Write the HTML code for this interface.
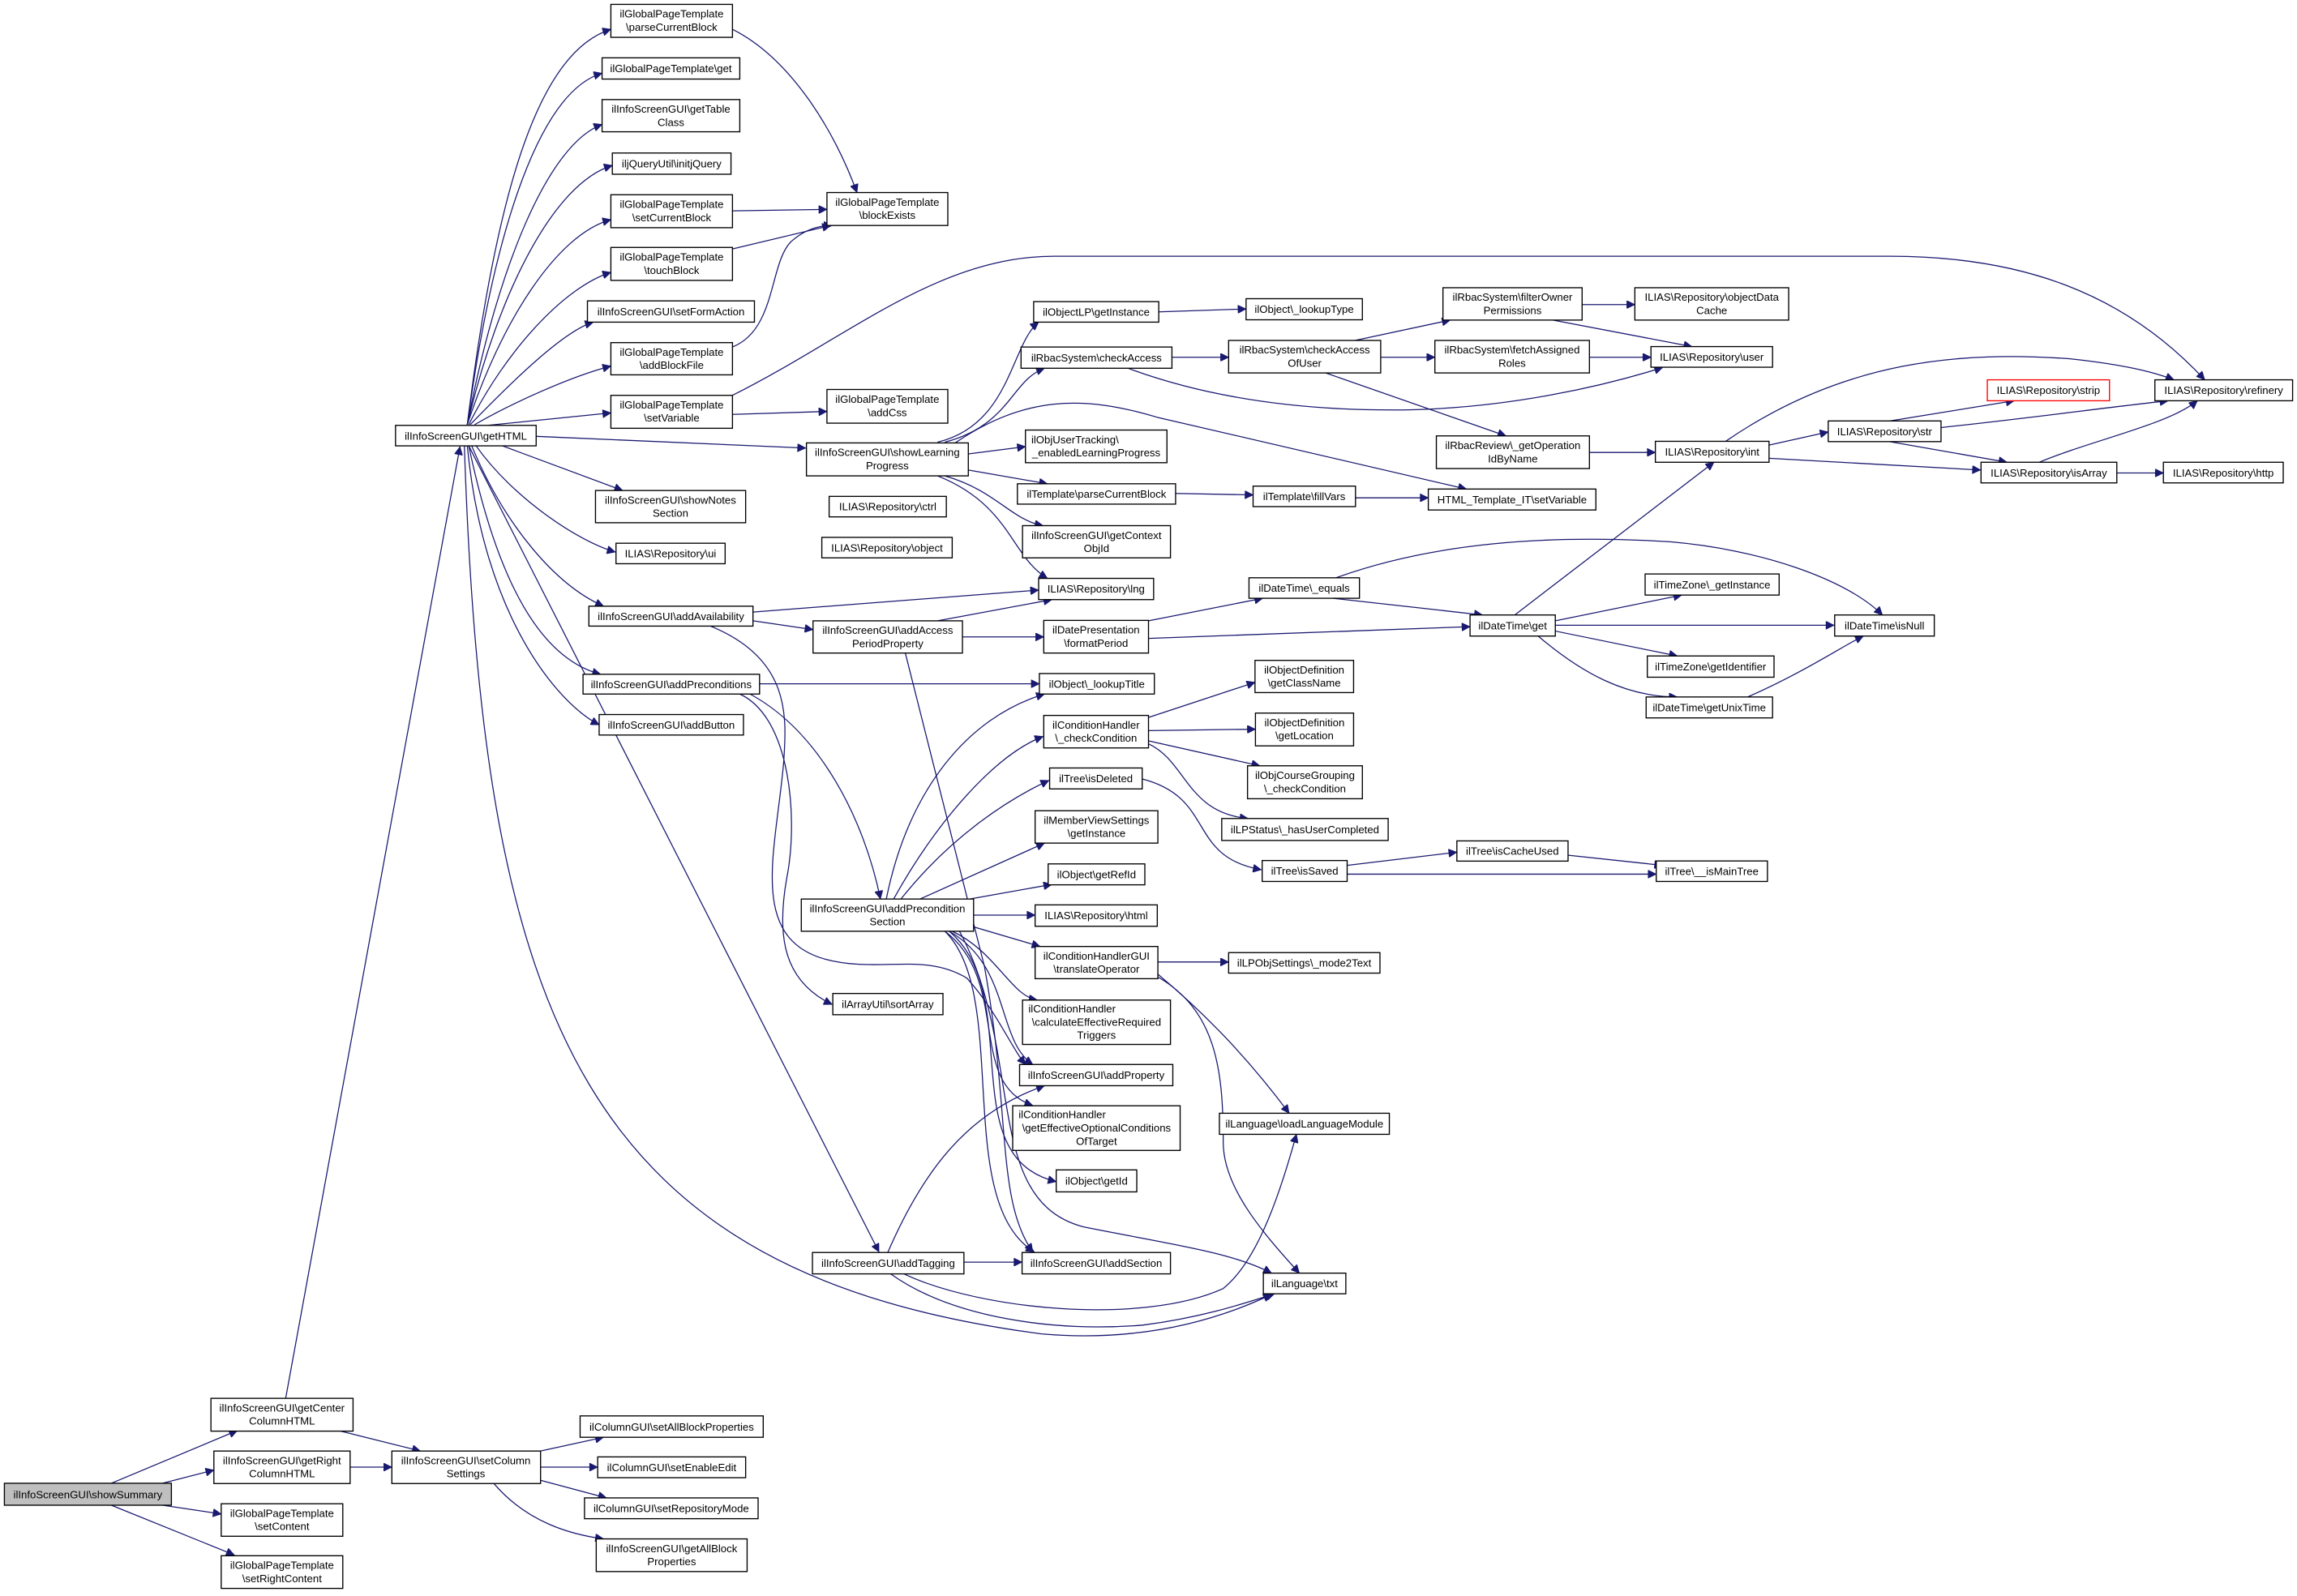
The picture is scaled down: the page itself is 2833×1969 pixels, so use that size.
<!DOCTYPE html>
<html><head><meta charset="utf-8"><style>
html,body{margin:0;padding:0;background:#fff}
svg{display:block}
text{font-family:"Liberation Sans",Arial,sans-serif;font-size:7.3px;fill:#000;text-anchor:middle}
rect{fill:#fff;stroke:#000;stroke-width:0.75}
path{fill:none;stroke:#191970;stroke-width:0.7}
</style></head><body>
<svg width="2833" height="1969" viewBox="0 0 1568 1090" preserveAspectRatio="none" xmlns="http://www.w3.org/2000/svg">
<defs><marker id="a" viewBox="0 0 10 10" refX="10" refY="5" markerWidth="7" markerHeight="5.5" markerUnits="userSpaceOnUse" orient="auto"><path d="M0,0 L10,5 L0,10 z" style="fill:#191970;stroke:#191970"/></marker></defs>
<g marker-end="url(#a)">
<path d="M76,1013 L162,977"/>
<path d="M111,1013 L146,1004"/>
<path d="M111,1028 L151,1034"/>
<path d="M76,1028 L160,1062"/>
<path d="M231,977 L287,991"/>
<path d="M239,1002 L267.5,1002"/>
<path d="M195,955 L314,305"/>
<path d="M369,991 L412,981.6"/>
<path d="M369,1002 L408,1002"/>
<path d="M369,1011 L414,1023"/>
<path d="M337,1013 C360,1040 390,1048 412,1051"/>
<path d="M319,290 C340,120 370,35 417,20"/>
<path d="M319,290 C338,150 370,62 411,50"/>
<path d="M319,290 C340,180 375,98 411,85"/>
<path d="M319,290 C340,200 378,125 418,113"/>
<path d="M319,290 C342,220 380,160 417,150"/>
<path d="M320,290 C345,240 385,196 417,186"/>
<path d="M321,290 C350,260 385,226 405,220"/>
<path d="M324,290 C350,275 390,257 417,250"/>
<path d="M333,290.5 L417,282"/>
<path d="M366,298 L550,306"/>
<path d="M343,304.5 L425,335"/>
<path d="M325,304.5 C350,340 395,370 420,377"/>
<path d="M322,304.5 C345,360 380,400 412,414"/>
<path d="M320,304.5 C340,400 370,450 410,460.5"/>
<path d="M319,304.5 C330,420 380,480 409,495"/>
<path d="M320,304.5 L600,855"/>
<path d="M317,304.5 C330,700 400,870 711,911 C790,918 845,895 868,884"/>
<path d="M500,20 C540,40 570,90 585,131.5"/>
<path d="M500,144 L564.5,143"/>
<path d="M500,170 L567,154"/>
<path d="M500,237 C530,225 525,180 540,165 C550,156 560,154 568,154"/>
<path d="M500,283 L564.5,281"/>
<path d="M500,270 C580,230 640,175 720,175 L1290,175 C1380,175 1450,200 1505,259.4"/>
<path d="M640,302 C690,290 690,235 709,220"/>
<path d="M645,302 C690,290 690,260 713,251.5"/>
<path d="M661,310 L700,305"/>
<path d="M661,321 L715,330.4"/>
<path d="M645,325 C680,335 690,355 712,359"/>
<path d="M640,325 C690,345 690,380 715,395"/>
<path d="M652,302.5 C700,270 740,270 790,285 L1001,334"/>
<path d="M800,244 L838.7,244"/>
<path d="M770,251.5 C820,270 880,280 950,280 C1030,280 1100,262 1135,251"/>
<path d="M925,232.5 L990,218.6"/>
<path d="M942.5,244 L979.5,244"/>
<path d="M905,254.7 L1028,297.7"/>
<path d="M1080,208 L1116,208"/>
<path d="M1060,218.6 L1155,236.7"/>
<path d="M1085,244 L1127,244"/>
<path d="M1085,309 L1130,309"/>
<path d="M791,213 L850.6,211"/>
<path d="M1207.6,304 L1248,295"/>
<path d="M1207.6,313 L1352,321"/>
<path d="M1178,301.4 C1260,245 1340,240 1413,245 C1450,249 1470,254 1484,259.4"/>
<path d="M1290,287.5 L1375,273.7"/>
<path d="M1325,292 C1390,285 1440,278 1480,273.7"/>
<path d="M1290,301.6 L1370,315.7"/>
<path d="M1392,315.7 C1430,300 1480,290 1500,273.7"/>
<path d="M1445,323 L1476.8,323"/>
<path d="M802.5,337 L855.4,338"/>
<path d="M925.3,340 L975,340"/>
<path d="M910,408.6 L1012,420"/>
<path d="M912,394.6 C980,370 1060,365 1140,370 C1200,375 1260,395 1285,420"/>
<path d="M784,424 L862,408.6"/>
<path d="M784,436 L1003.5,428"/>
<path d="M1034,420 L1170,315.7"/>
<path d="M1061.7,424 L1148,406.4"/>
<path d="M1061.7,427 L1252,427"/>
<path d="M1061.7,431 L1145,448"/>
<path d="M1050,434.4 C1080,460 1110,476 1145,476"/>
<path d="M1193,476 C1230,460 1260,440 1272,434.4"/>
<path d="M514,418 L709,403"/>
<path d="M514,424 L555,430"/>
<path d="M485,427.6 C540,450 537,490 535,520 C530,580 510,640 563,655 C600,665 630,650 660,668 C680,690 690,715 700,727"/>
<path d="M505,474 C540,490 545,560 537,600 C530,640 535,670 568,686"/>
<path d="M512,474 C560,500 590,560 601,614"/>
<path d="M518.5,467 L709.5,467"/>
<path d="M640,424 L718,409.5"/>
<path d="M657,435 L712.5,435"/>
<path d="M618,446 L672,660 C690,760 680,820 705,855"/>
<path d="M605,614 C620,540 660,490 713,474"/>
<path d="M610,614 C640,560 680,515 712,503"/>
<path d="M615,614 C650,570 690,545 716,533"/>
<path d="M628,614 L713,575.8"/>
<path d="M662,614 L718,604"/>
<path d="M664.6,625 L706.6,625"/>
<path d="M664.6,633 L710,646.4"/>
<path d="M650,636 C680,650 690,680 708,683"/>
<path d="M648,636 C690,660 680,710 705,727"/>
<path d="M645,636 C690,670 660,740 705,755"/>
<path d="M648,636 C700,680 650,790 721,807"/>
<path d="M645,636 C690,680 650,820 706,855"/>
<path d="M655,636 C700,720 670,820 740,838 C800,850 840,855 868,869.5"/>
<path d="M784,490 L856.7,466"/>
<path d="M784,499 L857,498"/>
<path d="M784,506 L860,523"/>
<path d="M784,508 C810,520 810,555 852,559"/>
<path d="M779.7,532 C830,545 810,585 861,594"/>
<path d="M919.6,591 L994.5,582"/>
<path d="M919.6,597 L1130.6,597"/>
<path d="M1070,584 L1135,591"/>
<path d="M790.4,657 L838.7,657"/>
<path d="M790,665 C820,690 850,720 880,760.3"/>
<path d="M790,667 C830,690 835,730 835,780 C835,810 860,840 887,869.5"/>
<path d="M606,855.4 C630,800 660,760 713,741.5"/>
<path d="M658,862 L697.7,862"/>
<path d="M617,870 C670,895 780,905 835,880 C860,860 875,810 885,774.7"/>
<path d="M608,870 C650,900 720,910 780,905 C820,900 850,890 870,883.6"/>
</g>

<rect x="3" y="1013" width="114" height="15" style="fill:#bfbfbf"/><text x="60" y="1023.2">ilInfoScreenGUI\showSummary</text>
<rect x="144" y="955" width="97" height="22.4"/><text x="192.5" y="964">ilInfoScreenGUI\getCenter</text><text x="192.5" y="973">ColumnHTML</text>
<rect x="146" y="991" width="93" height="22.2"/><text x="192.5" y="1000">ilInfoScreenGUI\getRight</text><text x="192.5" y="1009">ColumnHTML</text>
<rect x="151" y="1027" width="83" height="22.2"/><text x="192.5" y="1036">ilGlobalPageTemplate</text><text x="192.5" y="1045">\setContent</text>
<rect x="151" y="1062.5" width="83" height="22.3"/><text x="192.5" y="1071.5">ilGlobalPageTemplate</text><text x="192.5" y="1080.5">\setRightContent</text>
<rect x="267.5" y="991" width="101.5" height="22.2"/><text x="318" y="1000">ilInfoScreenGUI\setColumn</text><text x="318" y="1009">Settings</text>
<rect x="396" y="967" width="125" height="14.6"/><text x="458.5" y="977">ilColumnGUI\setAllBlockProperties</text>
<rect x="408" y="995" width="101" height="14.2"/><text x="458.5" y="1004.8">ilColumnGUI\setEnableEdit</text>
<rect x="399" y="1023" width="118.5" height="14.2"/><text x="458.2" y="1032.8">ilColumnGUI\setRepositoryMode</text>
<rect x="407" y="1051" width="103" height="22.3"/><text x="458.5" y="1060">ilInfoScreenGUI\getAllBlock</text><text x="458.5" y="1069">Properties</text>

<rect x="270" y="290.5" width="96" height="14"/><text x="318" y="300.2">ilInfoScreenGUI\getHTML</text>
<rect x="417" y="3" width="83" height="22.5"/><text x="458.5" y="12">ilGlobalPageTemplate</text><text x="458.5" y="21">\parseCurrentBlock</text>
<rect x="411" y="39.5" width="94" height="14.5"/><text x="458" y="49.3">ilGlobalPageTemplate\get</text>
<rect x="411" y="68" width="94" height="22"/><text x="458" y="77">ilInfoScreenGUI\getTable</text><text x="458" y="86">Class</text>
<rect x="418" y="104.5" width="81" height="14.5"/><text x="458.5" y="114.3">iljQueryUtil\initjQuery</text>
<rect x="417" y="133" width="83" height="22.5"/><text x="458.5" y="142">ilGlobalPageTemplate</text><text x="458.5" y="151">\setCurrentBlock</text>
<rect x="417" y="169" width="83" height="22.5"/><text x="458.5" y="178">ilGlobalPageTemplate</text><text x="458.5" y="187">\touchBlock</text>
<rect x="401" y="205.5" width="114" height="14.5"/><text x="458" y="215.3">ilInfoScreenGUI\setFormAction</text>
<rect x="417" y="234" width="83" height="22"/><text x="458.5" y="243">ilGlobalPageTemplate</text><text x="458.5" y="252">\addBlockFile</text>
<rect x="417" y="270" width="83" height="22.5"/><text x="458.5" y="279">ilGlobalPageTemplate</text><text x="458.5" y="288">\setVariable</text>
<rect x="564.5" y="131.5" width="82.5" height="22.5"/><text x="605.7" y="140.5">ilGlobalPageTemplate</text><text x="605.7" y="149.5">\blockExists</text>
<rect x="564.5" y="266" width="82.5" height="23"/><text x="605.7" y="275.2">ilGlobalPageTemplate</text><text x="605.7" y="284.2">\addCss</text>
<rect x="550.5" y="302.5" width="110.5" height="22.5"/><text x="605.7" y="311.5">ilInfoScreenGUI\showLearning</text><text x="605.7" y="320.5">Progress</text>
<rect x="406.5" y="335" width="102.5" height="22"/><text x="457.7" y="344">ilInfoScreenGUI\showNotes</text><text x="457.7" y="353">Section</text>
<rect x="566" y="339" width="80" height="14"/><text x="606" y="348.6">ILIAS\Repository\ctrl</text>
<rect x="420.5" y="371" width="74.5" height="14"/><text x="457.7" y="380.6">ILIAS\Repository\ui</text>
<rect x="561" y="367" width="89" height="14"/><text x="605.5" y="376.6">ILIAS\Repository\object</text>
<rect x="402" y="414" width="112" height="13.6"/><text x="458" y="423.4">ilInfoScreenGUI\addAvailability</text>
<rect x="555" y="424" width="102" height="22"/><text x="606" y="433">ilInfoScreenGUI\addAccess</text><text x="606" y="442">PeriodProperty</text>
<rect x="398" y="460.5" width="120.5" height="13.5"/><text x="458.2" y="470">ilInfoScreenGUI\addPreconditions</text>
<rect x="409" y="488" width="98.5" height="14"/><text x="458.2" y="497.6">ilInfoScreenGUI\addButton</text>
<rect x="547" y="614" width="117.6" height="22"/><text x="605.8" y="623">ilInfoScreenGUI\addPrecondition</text><text x="605.8" y="632">Section</text>
<rect x="568.5" y="678.5" width="75.2" height="14.5"/><text x="606" y="688.3">ilArrayUtil\sortArray</text>
<rect x="554.6" y="855.4" width="103.4" height="14.6"/><text x="606.3" y="865.2">ilInfoScreenGUI\addTagging</text>

<rect x="705.6" y="206" width="85.4" height="14"/><text x="748.3" y="215.6">ilObjectLP\getInstance</text>
<rect x="850.6" y="204" width="79.4" height="14.4"/><text x="890.3" y="213.8">ilObject\_lookupType</text>
<rect x="985" y="196.5" width="95" height="22.1"/><text x="1032.5" y="205.5">ilRbacSystem\filterOwner</text><text x="1032.5" y="214.5">Permissions</text>
<rect x="1116" y="196.5" width="105" height="22.1"/><text x="1168.5" y="205.5">ILIAS\Repository\objectData</text><text x="1168.5" y="214.5">Cache</text>
<rect x="697" y="237" width="103" height="14.5"/><text x="748.5" y="246.8">ilRbacSystem\checkAccess</text>
<rect x="838.7" y="232.5" width="103.8" height="22.2"/><text x="890.6" y="241.5">ilRbacSystem\checkAccess</text><text x="890.6" y="250.5">OfUser</text>
<rect x="979.5" y="232.5" width="105.5" height="22.2"/><text x="1032.2" y="241.5">ilRbacSystem\fetchAssigned</text><text x="1032.2" y="250.5">Roles</text>
<rect x="1127" y="236.7" width="83" height="14.1"/><text x="1168.5" y="246.4">ILIAS\Repository\user</text>
<rect x="1356.6" y="259.4" width="83.4" height="14.3" style="stroke:#ff0000"/><text x="1398.3" y="269.1">ILIAS\Repository\strip</text>
<rect x="1471" y="259.4" width="94" height="14.3"/><text x="1518" y="269.1">ILIAS\Repository\refinery</text>
<rect x="700" y="293.7" width="96.6" height="22.3"/><text x="704" y="302.7" style="text-anchor:start">ilObjUserTracking\</text><text x="748.3" y="311.7">_enabledLearningProgress</text>
<rect x="980.5" y="297.7" width="104.5" height="22.3"/><text x="1032.7" y="306.7">ilRbacReview\_getOperation</text><text x="1032.7" y="315.7">IdByName</text>
<rect x="1130" y="301.4" width="77.6" height="14.3"/><text x="1168.8" y="311.1">ILIAS\Repository\int</text>
<rect x="1248" y="287.5" width="77" height="14.1"/><text x="1286.5" y="297.2">ILIAS\Repository\str</text>
<rect x="1352.3" y="315.7" width="92.7" height="14.1"/><text x="1398.6" y="325.4">ILIAS\Repository\isArray</text>
<rect x="1476.8" y="315.7" width="81.8" height="14.1"/><text x="1517.7" y="325.4">ILIAS\Repository\http</text>
<rect x="694.5" y="330.4" width="108" height="13.9"/><text x="748.5" y="340">ilTemplate\parseCurrentBlock</text>
<rect x="855.4" y="332" width="69.9" height="14"/><text x="890.3" y="341.6">ilTemplate\fillVars</text>
<rect x="975" y="334" width="114.4" height="14.3"/><text x="1032.2" y="343.7">HTML_Template_IT\setVariable</text>
<rect x="698" y="359" width="101" height="22"/><text x="748.5" y="368">ilInfoScreenGUI\getContext</text><text x="748.5" y="377">ObjId</text>
<rect x="709" y="395" width="78.5" height="14.5"/><text x="748.2" y="404.8">ILIAS\Repository\lng</text>
<rect x="852.6" y="394.6" width="75.4" height="14"/><text x="890.3" y="404.2">ilDateTime\_equals</text>
<rect x="1123" y="392" width="91.5" height="14.4"/><text x="1168.7" y="401.8">ilTimeZone\_getInstance</text>
<rect x="712.5" y="423.7" width="71.5" height="22.3"/><text x="748.2" y="432.7">ilDatePresentation</text><text x="748.2" y="441.7">\formatPeriod</text>
<rect x="1003.5" y="420" width="58.2" height="14.4"/><text x="1032.6" y="429.8">ilDateTime\get</text>
<rect x="1252.4" y="420" width="68" height="14.4"/><text x="1286.4" y="429.8">ilDateTime\isNull</text>
<rect x="1124.5" y="448" width="86.5" height="14.5"/><text x="1167.7" y="457.8">ilTimeZone\getIdentifier</text>
<rect x="709.5" y="460" width="78.5" height="14"/><text x="748.7" y="469.6">ilObject\_lookupTitle</text>
<rect x="856.7" y="451" width="67.3" height="22"/><text x="890.3" y="460">ilObjectDefinition</text><text x="890.3" y="469">\getClassName</text>
<rect x="1123.7" y="476" width="86.3" height="14.3"/><text x="1166.8" y="485.7">ilDateTime\getUnixTime</text>
<rect x="712.5" y="488.6" width="71.5" height="22.2"/><text x="748.2" y="497.6">ilConditionHandler</text><text x="748.2" y="506.6">\_checkCondition</text>
<rect x="857" y="487" width="67" height="22.4"/><text x="890.5" y="496">ilObjectDefinition</text><text x="890.5" y="505">\getLocation</text>
<rect x="851.6" y="523" width="78.4" height="22.5"/><text x="890.8" y="532">ilObjCourseGrouping</text><text x="890.8" y="541">\_checkCondition</text>
<rect x="716.5" y="524.5" width="63.2" height="14.3"/><text x="748.1" y="534.2">ilTree\isDeleted</text>
<rect x="834" y="559" width="113.6" height="15"/><text x="890.8" y="569">ilLPStatus\_hasUserCompleted</text>
<rect x="861.6" y="587.7" width="58" height="14.3"/><text x="890.6" y="597.4">ilTree\isSaved</text>
<rect x="994.5" y="574.3" width="75.9" height="13.8"/><text x="1032.4" y="583.8">ilTree\isCacheUsed</text>
<rect x="1130.6" y="588" width="75.9" height="14"/><text x="1168.5" y="597.6">ilTree\__isMainTree</text>
<rect x="706.6" y="553.7" width="83.8" height="22.1"/><text x="748.5" y="562.7">ilMemberViewSettings</text><text x="748.5" y="571.7">\getInstance</text>
<rect x="715.5" y="590" width="66" height="14.3"/><text x="748.5" y="599.7">ilObject\getRefId</text>
<rect x="706.6" y="618" width="83.4" height="14.6"/><text x="748.3" y="627.8">ILIAS\Repository\html</text>
<rect x="706.6" y="646.4" width="83.8" height="22"/><text x="748.5" y="655.4">ilConditionHandlerGUI</text><text x="748.5" y="664.4">\translateOperator</text>
<rect x="838.7" y="650.6" width="103.3" height="14"/><text x="890.3" y="660.2">ilLPObjSettings\_mode2Text</text>
<rect x="698" y="683" width="101" height="30.3"/><text x="702" y="691.5" style="text-anchor:start">ilConditionHandler</text><text x="748.5" y="700.5">\calculateEffectiveRequired</text><text x="748.5" y="709.5">Triggers</text>
<rect x="696" y="727" width="104.6" height="14.5"/><text x="748.3" y="736.8">ilInfoScreenGUI\addProperty</text>
<rect x="832.4" y="760.3" width="116" height="14.4"/><text x="890.4" y="770.1">ilLanguage\loadLanguageModule</text>
<rect x="691.3" y="755.2" width="114.3" height="30.5"/><text x="695.3" y="763.8" style="text-anchor:start">ilConditionHandler</text><text x="748.5" y="772.8">\getEffectiveOptionalConditions</text><text x="748.5" y="781.8">OfTarget</text>
<rect x="721" y="799" width="55" height="15"/><text x="748.5" y="809">ilObject\getId</text>
<rect x="697.7" y="855.4" width="101.3" height="14.6"/><text x="748.3" y="865.2">ilInfoScreenGUI\addSection</text>
<rect x="862.4" y="869.5" width="56.3" height="14.1"/><text x="890.5" y="879.2">ilLanguage\txt</text>
</svg>
</body></html>
